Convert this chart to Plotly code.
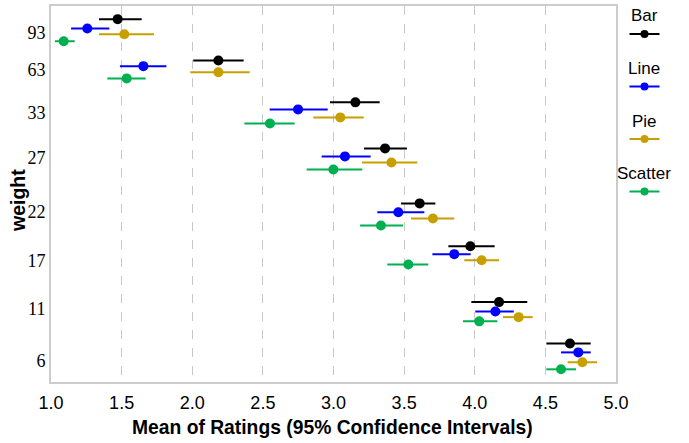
import plotly.graph_objects as go

# Categories (bottom to top) and their positions on the jittered rank axis
categories = ["6", "11", "17", "22", "27", "33", "63", "93"]
cat_pos = [0.46, 1.57, 2.59, 3.63, 4.78, 5.74, 6.65, 7.44]

series_names = ["Bar", "Line", "Pie", "Scatter"]
series_colors = ["#000000", "#0000ff", "#c89f00", "#00b050"]

bar_mean = [4.674, 4.172, 3.969, 3.610, 3.365, 3.155, 2.185, 1.472]
bar_lo = [4.507, 3.976, 3.813, 3.478, 3.216, 2.975, 2.007, 1.340]
bar_hi = [4.821, 4.372, 4.141, 3.721, 3.520, 3.327, 2.364, 1.642]
bar_y = [0.82, 1.70, 2.89, 3.80, 4.97, 5.95, 6.84, 7.72]

line_mean = [4.733, 4.146, 3.855, 3.459, 3.081, 2.749, 1.654, 1.257]
line_lo = [4.611, 4.004, 3.700, 3.310, 2.916, 2.548, 1.488, 1.142]
line_hi = [4.821, 4.276, 3.971, 3.643, 3.263, 2.959, 1.817, 1.413]
line_y = [0.63, 1.50, 2.72, 3.61, 4.80, 5.80, 6.72, 7.52]

pie_mean = [4.762, 4.311, 4.049, 3.704, 3.410, 3.048, 2.185, 1.519]
pie_lo = [4.658, 4.200, 3.926, 3.549, 3.202, 2.857, 1.986, 1.340]
pie_hi = [4.866, 4.410, 4.172, 3.855, 3.593, 3.214, 2.407, 1.729]
pie_y = [0.42, 1.38, 2.59, 3.48, 4.67, 5.63, 6.59, 7.40]

scatter_mean = [4.611, 4.032, 3.530, 3.336, 2.999, 2.550, 1.536, 1.090]
scatter_lo = [4.507, 3.917, 3.381, 3.188, 2.810, 2.369, 1.399, 1.028]
scatter_hi = [4.717, 4.160, 3.671, 3.492, 3.204, 2.725, 1.670, 1.168]
scatter_y = [0.27, 1.29, 2.50, 3.33, 4.52, 5.50, 6.46, 7.25]

x_ticks = [1.0, 1.5, 2.0, 2.5, 3.0, 3.5, 4.0, 4.5, 5.0]

data = [
    (bar_mean, bar_lo, bar_hi, bar_y),
    (line_mean, line_lo, line_hi, line_y),
    (pie_mean, pie_lo, pie_hi, pie_y),
    (scatter_mean, scatter_lo, scatter_hi, scatter_y),
]

fig = go.Figure()
for name, color, (m, lo, hi, yv) in zip(series_names, series_colors, data):
    fig.add_trace(go.Scatter(
        x=m, y=yv, mode="markers", name=name,
        marker=dict(color=color, size=10, line=dict(width=0)),
        error_x=dict(type="data", symmetric=False,
                     array=[h - v for h, v in zip(hi, m)],
                     arrayminus=[v - l for v, l in zip(m, lo)],
                     color=color, thickness=2, width=0),
        showlegend=False,
    ))

W, H = 689, 443
ml, mr, mt, mb = 51, 73, 6, 61
pw, ph = W - ml - mr, H - mt - mb

def px_to_paper_x(px):
    return (px - ml) / pw

def px_to_paper_y(py):
    return (H - mb - py) / ph

annotations = []
shapes = []
# custom legend: label above a line+dot symbol
for i, (name, color) in enumerate(zip(series_names, series_colors)):
    ty = 16 + i * 52.5
    sy = ty + 18
    annotations.append(dict(
        text=name, xref="paper", yref="paper",
        x=px_to_paper_x(644), y=px_to_paper_y(ty),
        xanchor="center", yanchor="middle", showarrow=False,
        font=dict(family="Liberation Sans, Arial, sans-serif", size=17, color="#000000"),
    ))
    shapes.append(dict(
        type="line", xref="paper", yref="paper",
        x0=px_to_paper_x(629.5), x1=px_to_paper_x(659.5),
        y0=px_to_paper_y(sy), y1=px_to_paper_y(sy),
        line=dict(color=color, width=2),
    ))
    shapes.append(dict(
        type="circle", xref="paper", yref="paper",
        xsizemode="pixel", ysizemode="pixel",
        xanchor=px_to_paper_x(644.5), yanchor=px_to_paper_y(sy),
        x0=-4, x1=4, y0=-4, y1=4,
        fillcolor=color, line=dict(width=0),
    ))

# axis titles
annotations.append(dict(
    text="<b>Mean of Ratings (95% Confidence Intervals)</b>",
    xref="paper", yref="paper", x=px_to_paper_x(332), y=px_to_paper_y(427),
    xanchor="center", yanchor="middle", showarrow=False,
    font=dict(family="Liberation Sans, Arial, sans-serif", size=19.3, color="#000000"),
))
annotations.append(dict(
    text="<b>weight</b>", textangle=-90,
    xref="paper", yref="paper", x=px_to_paper_x(18), y=px_to_paper_y(201),
    xanchor="center", yanchor="middle", showarrow=False,
    font=dict(family="Liberation Sans, Arial, sans-serif", size=19.5, color="#000000"),
))

fig.update_layout(
    width=W, height=H,
    margin=dict(l=ml, r=mr, t=mt, b=mb, autoexpand=False),
    paper_bgcolor="white", plot_bgcolor="white",
    annotations=annotations, shapes=shapes,
    showlegend=False,
)
fig.update_xaxes(
    range=[1.0, 5.0], tickvals=x_ticks, ticktext=[f"{v:.1f}" for v in x_ticks],
    showgrid=True, gridcolor="#c8c8c8", griddash="dash", gridwidth=1.3,
    showline=True, mirror=True, linecolor="#cccccc", linewidth=2,
    ticks="", zeroline=False, automargin=False, ticklabelstandoff=3,
    tickfont=dict(family="Liberation Sans, Arial, sans-serif", size=18, color="#000000"),
)
fig.update_yaxes(
    range=[0, 8], tickvals=cat_pos, ticktext=categories,
    showgrid=False, showline=True, mirror=True, linecolor="#cccccc", linewidth=2,
    ticks="", zeroline=False, automargin=False,
    tickfont=dict(family="Liberation Serif, Times New Roman, serif", size=18, color="#000000"),
)

fig.write_html("out.html", config={"displayModeBar": False},
               post_script="document.body.style.margin='0';")
